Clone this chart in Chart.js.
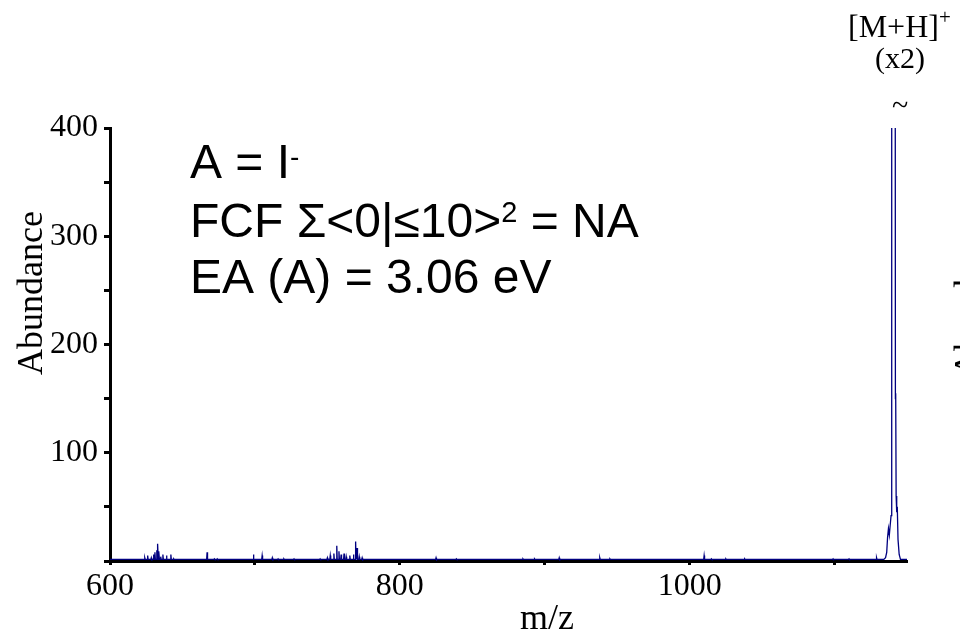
<!DOCTYPE html>
<html>
<head>
<meta charset="utf-8">
<script src="https://cdn.jsdelivr.net/npm/chart.js@4.4.1/dist/chart.umd.min.js"></script>
<style>
  html, body { margin: 0; padding: 0; background: #fff; }
  canvas { display: block; }
</style>
</head>
<body>
<canvas id="spectrum" width="960" height="635"></canvas>
<script>
// small spikes along the trace (m/z, abundance)
const peakMz = [624, 626, 628.5, 630, 631, 632.3, 633, 633.8, 635, 636.5, 639, 642, 644, 650,
  667, 672, 674, 699, 705, 708, 712, 716, 720, 727, 745,
  750, 752, 754.5, 756.5, 758, 759.5, 761.5, 763, 765.5, 768, 769.5, 770.5, 772, 774,
  825, 839, 885, 893, 910, 938, 945, 1010, 1015, 1025, 1038, 1070, 1099, 1110, 1129];
const peakAbundance = [3, 5, 3, 6, 8, 10, 16, 9, 4, 6, 5, 6, 2, 2,
  8, 2, 2, 6, 5, 2, 3, 2, 2, 2, 2,
  3, 5, 7, 14, 9, 6, 7, 4, 5, 6, 18, 12, 4, 3,
  3, 2, 2, 2, 3, 3, 2, 5, 2, 2, 2, 1.5, 2, 2, 3];

// [M+H]+ cluster (shown x2, runs off the top of the axis)
const clusterMz = [1134.0, 1135.2, 1136.0, 1136.6, 1137.2, 1137.8, 1138.4, 1139.0, 1139.3, 1139.6,
  1141.6, 1142.0, 1142.2, 1142.5, 1142.9, 1143.3, 1143.8, 1144.6, 1145.5];
const clusterAbundance = [1.5, 3, 8, 22, 30, 24, 33, 42, 55, 1200,
  1200, 150, 155, 60, 45, 50, 20, 6, 1.5];

const baseline = 1.5;
const xLabels = [600, 800, 1000];
const yLabels = [100, 200, 300, 400];

// build the trace: baseline, spikes, then the cluster
let points = [{x: 600, y: baseline}];
peakMz.forEach((m, i) => {
  points.push({x: m - 0.3, y: baseline});
  points.push({x: m, y: peakAbundance[i]});
  points.push({x: m + 0.3, y: baseline});
});
clusterMz.forEach((m, i) => points.push({x: m, y: clusterAbundance[i]}));
points.push({x: 1150, y: baseline});
points.sort((a, b) => a.x - b.x);

function drawRuns(ctx, x, y, runs, family) {
  runs.forEach(r => {
    ctx.font = r.size + 'px ' + family;
    ctx.fillText(r.text, x, y + (r.dy || 0));
    x += ctx.measureText(r.text).width;
  });
}

const labels = {
  id: 'labels',
  afterDraw(chart) {
    const ctx = chart.ctx;
    ctx.save();
    ctx.fillStyle = '#000';
    ctx.textBaseline = 'alphabetic';

    // axis titles
    ctx.font = '36px "Liberation Serif"';
    ctx.textAlign = 'center';
    ctx.fillText('m/z', 547, 629);
    ctx.save();
    ctx.translate(42, 293);
    ctx.rotate(-Math.PI / 2);
    ctx.fillText('Abundance', 0, 0);
    ctx.restore();
    // edge of the next panel's axis title
    ctx.save();
    ctx.translate(979, 295);
    ctx.rotate(-Math.PI / 2);
    ctx.fillText('Abundance', 0, 0);
    ctx.restore();

    // peak label
    ctx.textAlign = 'left';
    drawRuns(ctx, 848, 37, [{text: '[M+H]', size: 32}, {text: '+', size: 21, dy: -13}], '"Liberation Serif"');
    ctx.textAlign = 'center';
    ctx.font = '30px "Liberation Serif"';
    ctx.fillText('(x2)', 900, 68);
    ctx.font = '30px "Liberation Serif"';
    ctx.fillText('~', 900, 115);

    // info block
    ctx.textAlign = 'left';
    const sans = '"Liberation Sans"';
    drawRuns(ctx, 190, 178, [{text: 'A = I', size: 48}, {text: '-', size: 28, dy: -12}], sans);
    drawRuns(ctx, 190, 237, [{text: 'FCF \u03A3<0|\u226410>', size: 48}, {text: '2', size: 29, dy: -15}, {text: ' = NA', size: 48}], sans);
    drawRuns(ctx, 190, 293, [{text: 'EA (A) = 3.06 eV', size: 48}], sans);
    ctx.restore();
  }
};

Chart.defaults.font.family = '"Liberation Serif"';
Chart.defaults.color = '#000';

new Chart(document.getElementById('spectrum'), {
  type: 'line',
  data: {
    datasets: [{
      data: points,
      borderColor: '#000080',
      borderWidth: 1.3,
      pointRadius: 0,
      tension: 0,
      fill: false
    }]
  },
  options: {
    responsive: false,
    animation: false,
    layout: { padding: { left: 0, right: 53, top: 128, bottom: 0 } },
    plugins: { legend: { display: false }, tooltip: { enabled: false } },
    scales: {
      x: {
        type: 'linear',
        min: 600,
        max: 1150,
        afterFit: s => { s.height = 74; },
        border: { display: true, color: '#000', width: 3 },
        grid: { drawOnChartArea: false, drawTicks: true, tickLength: 4, tickWidth: 3, color: '#000' },
        ticks: {
          stepSize: 100,
          includeBounds: false,
          autoSkip: false,
          maxRotation: 0,
          padding: 2,
          font: { size: 32 },
          callback: v => xLabels.includes(v) ? String(v) : ''
        }
      },
      y: {
        min: 0,
        max: 400,
        afterFit: s => { s.width = 110; },
        border: { display: true, color: '#000', width: 3 },
        grid: { drawOnChartArea: false, drawTicks: true, tickLength: 6, tickWidth: 3, color: '#000' },
        ticks: {
          stepSize: 50,
          padding: 6,
          font: { size: 32 },
          callback: v => yLabels.includes(v) ? String(v) : ''
        }
      }
    }
  },
  plugins: [labels]
});
</script>
</body>
</html>
